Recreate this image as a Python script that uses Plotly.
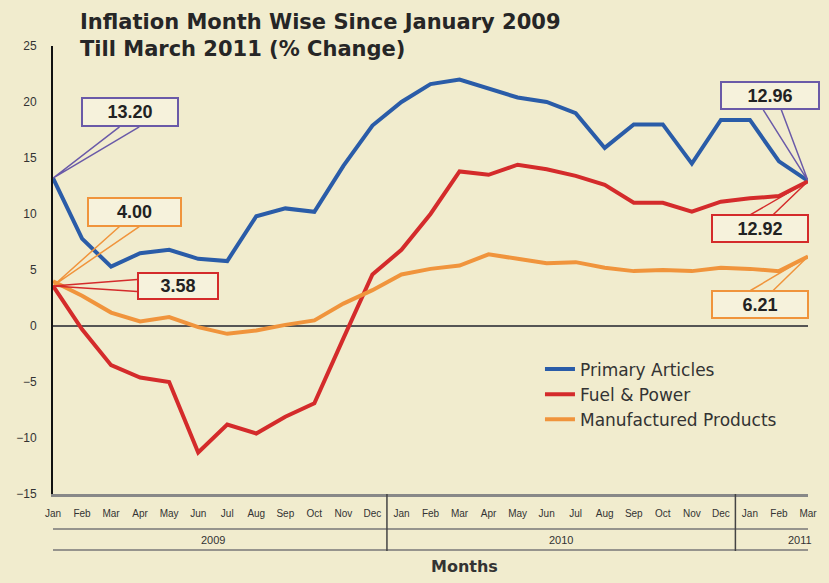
import plotly.graph_objects as go

months = ["Jan", "Feb", "Mar", "Apr", "May", "Jun", "Jul", "Aug", "Sep", "Oct", "Nov", "Dec",
          "Jan", "Feb", "Mar", "Apr", "May", "Jun", "Jul", "Aug", "Sep", "Oct", "Nov", "Dec",
          "Jan", "Feb", "Mar"]
years = ["2009", "2010", "2011"]
primary_articles = [13.20, 7.8, 5.3, 6.5, 6.8, 6.0, 5.8, 9.8, 10.5, 10.2, 14.3, 17.9,
                    20.0, 21.6, 22.0, 21.2, 20.4, 20.0, 19.0, 15.9, 18.0, 18.0, 14.5, 18.4,
                    18.4, 14.7, 12.96]
fuel_power = [3.58, -0.3, -3.5, -4.6, -5.0, -11.3, -8.8, -9.6, -8.1, -6.9, -1.1, 4.6,
              6.8, 10.0, 13.8, 13.5, 14.4, 14.0, 13.4, 12.6, 11.0, 11.0, 10.2, 11.1,
              11.4, 11.6, 12.92]
manufactured = [4.00, 2.7, 1.2, 0.4, 0.8, -0.1, -0.7, -0.4, 0.1, 0.5, 2.0, 3.2,
                4.6, 5.1, 5.4, 6.4, 6.0, 5.6, 5.7, 5.2, 4.9, 5.0, 4.9, 5.2,
                5.1, 4.9, 6.21]

BG = "#f1ecce"
BLUE = "#2a5ca8"
RED = "#d42b2b"
ORANGE = "#f0943c"
PURPLE = "#6a5aa8"
FONT = "Liberation Sans, Arial, sans-serif"
WIDE = "DejaVu Sans, sans-serif"

x = list(range(len(months)))

fig = go.Figure()
fig.add_trace(go.Scatter(x=x, y=primary_articles, mode="lines", name="Primary Articles",
                         line=dict(color=BLUE, width=4)))
fig.add_trace(go.Scatter(x=x, y=fuel_power, mode="lines", name="Fuel & Power",
                         line=dict(color=RED, width=4)))
fig.add_trace(go.Scatter(x=x, y=manufactured, mode="lines", name="Manufactured Products",
                         line=dict(color=ORANGE, width=4)))

shapes = []
annotations = []


def py(px):
    # pixel row -> paper y (plot area spans rows 46..494)
    return (494 - px) / 448.0


def pxx(px):
    return (px - 53) / 762.0


# title (two lines)
annotations.append(dict(x=pxx(78), y=py(22), xref="paper", yref="paper", xanchor="left",
                        yanchor="middle", showarrow=False,
                        text="<b>Inflation Month Wise Since January 2009</b>",
                        font=dict(family=WIDE, size=21, color="#262626")))
annotations.append(dict(x=pxx(78), y=py(49), xref="paper", yref="paper", xanchor="left",
                        yanchor="middle", showarrow=False,
                        text="<b>Till March 2011 (% Change)</b>",
                        font=dict(family=WIDE, size=21, color="#262626")))

# zero line
shapes.append(dict(type="line", xref="paper", yref="y", x0=0, x1=1, y0=0, y1=0,
                   line=dict(color="#555555", width=2), layer="below"))

# callout boxes
last = len(x) - 1
callouts = [
    (f"{primary_articles[0]:.2f}", PURPLE, 2.66, 19.08, 94, 26, 0, primary_articles[0],
     [(2.29, 17.78), (2.97, 17.78)]),
    (f"{manufactured[0]:.2f}", ORANGE, 2.81, 10.17, 91, 26, 0, fuel_power[0],
     [(2.29, 8.88), (2.97, 8.88)]),
    (f"{fuel_power[0]:.2f}", RED, 4.30, 3.57, 78, 24, 0, fuel_power[0],
     [(2.90, 4.15), (2.90, 3.08)]),
    (f"{primary_articles[last]:.2f}", PURPLE, 24.70, 20.55, 96, 25, last, primary_articles[last],
     [(24.46, 19.30), (25.08, 19.30)]),
    (f"{fuel_power[last]:.2f}", RED, 24.36, 8.70, 94, 25, last, fuel_power[last],
     [(24.02, 9.94), (24.80, 9.94)]),
    (f"{manufactured[last]:.2f}", ORANGE, 24.36, 1.93, 94, 25, last, manufactured[last],
     [(24.02, 3.17), (24.80, 3.17)]),
]
for text, col, bx, by, w, h, ax_, ay_, pts in callouts:
    (p1x, p1y), (p2x, p2y) = pts
    shapes.append(dict(type="path", xref="x", yref="y",
                       path=f"M {p1x} {p1y} L {ax_} {ay_} L {p2x} {p2y}",
                       line=dict(color=col, width=1.5)))
    annotations.append(dict(x=bx, y=by, xref="x", yref="y", text=f"<b>{text}</b>",
                            showarrow=False, bordercolor=col, borderwidth=2, borderpad=0,
                            bgcolor="#f6f2dc", width=w, height=h,
                            font=dict(family=FONT, size=18, color="#222222")))

# year rows below the axis
shapes.append(dict(type="line", xref="x", yref="paper", x0=0, x1=26.05, y0=py(529), y1=py(529),
                   line=dict(color="#777777", width=1.5)))
shapes.append(dict(type="line", xref="x", yref="paper", x0=-0.15, x1=26.05, y0=py(550), y1=py(550),
                   line=dict(color="#777777", width=1.5)))
for xv in (11.5, 23.5):
    shapes.append(dict(type="line", xref="x", yref="paper", x0=xv, x1=xv, y0=0, y1=py(551),
                       line=dict(color="#444444", width=1.5)))

annotations.append(dict(x=5.5, y=py(540), xref="x", yref="paper", text=years[0], showarrow=False,
                        yanchor="middle", font=dict(family=FONT, size=11, color="#333333")))
annotations.append(dict(x=17.5, y=py(540), xref="x", yref="paper", text=years[1], showarrow=False,
                        yanchor="middle", font=dict(family=FONT, size=11, color="#333333")))
annotations.append(dict(x=26, y=py(540), xref="x", yref="paper", text=years[2], showarrow=False,
                        xanchor="right", xshift=6, yanchor="middle",
                        font=dict(family=FONT, size=11, color="#333333")))
annotations.append(dict(x=14.16, y=py(566), xref="x", yref="paper", text="<b>Months</b>",
                        showarrow=False, yanchor="middle",
                        font=dict(family=WIDE, size=16, color="#333333")))

fig.update_layout(
    width=829, height=583,
    paper_bgcolor=BG, plot_bgcolor=BG,
    margin=dict(l=53, r=14, t=46, b=89),
    showlegend=True,
    legend=dict(x=0.645, y=0.318, xanchor="left", yanchor="top", bgcolor="rgba(0,0,0,0)",
                font=dict(family=WIDE, size=17, color="#333333"), tracegroupgap=0),
    shapes=shapes,
    annotations=annotations,
    xaxis=dict(range=[0, 26], tickvals=x, ticktext=months, showgrid=False, zeroline=False,
               showline=True, linecolor="#888888", linewidth=3, ticks="",
               tickfont=dict(family=FONT, size=10, color="#333333"), ticklabelstandoff=8),
    yaxis=dict(range=[-15, 25], tickvals=[-15, -10, -5, 0, 5, 10, 15, 20, 25],
               showgrid=False, zeroline=False, showline=True, linecolor="#111111", linewidth=2,
               ticks="", tickfont=dict(family=FONT, size=12, color="#333333"),
               ticklabelstandoff=12),
)

fig.write_html("out.html")
